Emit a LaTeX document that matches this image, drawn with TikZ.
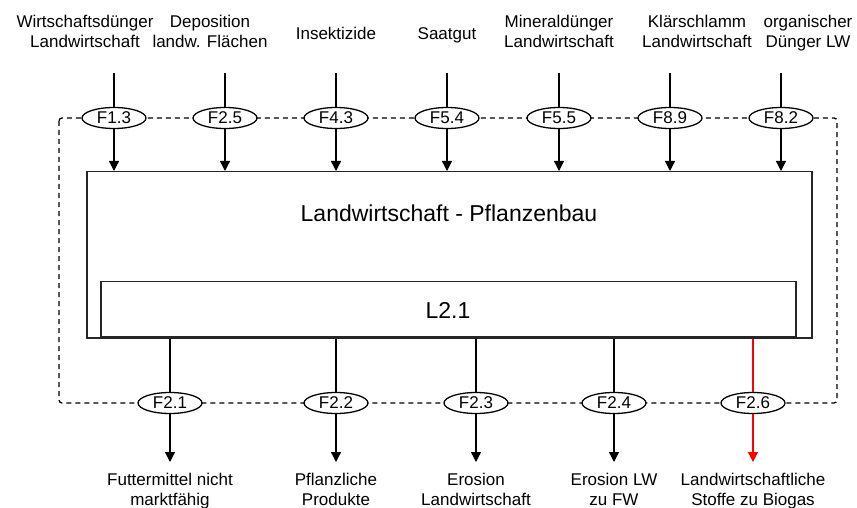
\documentclass[tikz,border=0pt]{standalone}
\usepackage{fontspec}
\setmainfont{Liberation Sans}
\usetikzlibrary{shapes.geometric,arrows.meta}
\begin{document}
\begin{tikzpicture}[x=1pt,y=-1pt,
  flow/.style={ellipse,draw,fill=white,line width=1.3pt,minimum width=64pt,minimum height=21pt,
    inner sep=0pt,font=\fontsize{17}{20}\selectfont},
  lbl/.style={align=center,inner sep=0pt,anchor=north,font=\fontsize{17}{20}\selectfont},
  link/.style={line width=1.3pt},
  arr/.style={line width=1.3pt,-{Triangle[width=10pt,length=10pt]}},
  loopline/.style={dash pattern=on 5pt off 4pt,line width=1.3pt,rounded corners=3pt},
  frame/.style={draw=black!85,line width=1.5pt,inner sep=0pt}]
\useasboundingbox (0,0) rectangle (857,508);

% dashed system boundary
\draw[loopline] (59,118) rectangle (837,403);

% process boxes
\node[frame,minimum width=725pt,minimum height=166pt,anchor=north west] (box) at (86,171) {};
\node[frame,minimum width=695pt,minimum height=55pt,anchor=south west] (inner) at (100,337) {};
\node[anchor=base,font=\fontsize{23}{27}\selectfont] (title) at (449,221) {Landwirtschaft - Pflanzenbau};
\node[anchor=base,font=\fontsize{23}{27}\selectfont] (code) at (448,318) {L2.1};

% inflows
\foreach \x/\t/\n in {114/F1.3/a,225/F2.5/b,336/F4.3/c,447/F5.4/d,559/F5.5/e,670/F8.9/f,781/F8.2/g}{
  \node[flow] (in\n) at (\x,118) {\t};
  \coordinate (src\n) at (\x,73);
  \draw[link] (src\n) -- (in\n);
  \draw[arr] (in\n) -- (in\n |- box.north);
}

% outflows
\foreach \x/\t/\n/\c in {170/F2.1/a/black,336/F2.2/b/black,476/F2.3/c/black,614/F2.4/d/black,753/F2.6/e/red}{
  \node[flow] (out\n) at (\x,403) {\t};
  \coordinate (tip\n) at (\x,462);
  \draw[link,draw=\c] (out\n |- box.south) -- (out\n);
  \draw[arr,draw=\c,fill=\c] (out\n) -- (tip\n);
}

% source labels
\node[lbl] (la) at (85,15) {Wirtschaftsdünger\\Landwirtschaft};
\node[lbl] (lb) at (210,15) {Deposition\\landw. Flächen};
\node[lbl] (lc) at (336,27) {Insektizide};
\node[lbl] (ld) at (447,27) {Saatgut};
\node[lbl] (le) at (559,15) {Mineraldünger\\Landwirtschaft};
\node[lbl] (lf) at (697,15) {Klärschlamm\\Landwirtschaft};
\node[lbl] (lg) at (808,15) {organischer\\Dünger LW};

% sink labels
\node[lbl] (ma) at (170,473) {Futtermittel nicht\\marktfähig};
\node[lbl] (mb) at (336,473) {Pflanzliche\\Produkte};
\node[lbl] (mc) at (476,473) {Erosion\\Landwirtschaft};
\node[lbl] (md) at (614,473) {Erosion LW\\zu FW};
\node[lbl] (me) at (753,473) {Landwirtschaftliche\\Stoffe zu Biogas};
\end{tikzpicture}
\end{document}
